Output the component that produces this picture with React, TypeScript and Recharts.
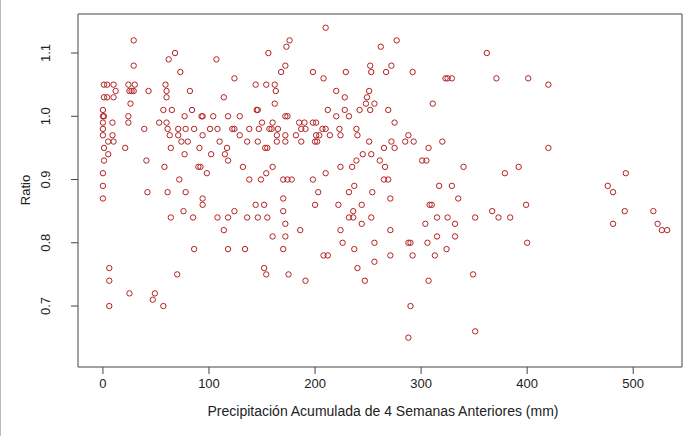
import React from 'react';
import { ScatterChart, Scatter, XAxis, YAxis, ReferenceArea } from 'recharts';

// Ratio levels (rows) and the precipitation values of the points on each row
const ratioLevels = [
  1.14, 1.12, 1.11, 1.10, 1.09, 1.08, 1.07, 1.06, 1.05, 1.04, 1.03, 1.02, 1.01, 1.00,
  0.99, 0.98, 0.97, 0.96, 0.95, 0.94, 0.93, 0.92, 0.91, 0.90, 0.89, 0.88, 0.87, 0.86,
  0.85, 0.84, 0.83, 0.82, 0.81, 0.80, 0.79, 0.78, 0.77, 0.76, 0.75, 0.74, 0.72, 0.71,
  0.70, 0.66, 0.65,
];

const precipitationByLevel = [
  [210],
  [29, 176, 277],
  [173, 262],
  [68, 156, 362],
  [62, 107],
  [29, 172, 252, 272],
  [73, 168, 198, 229, 253, 267, 292],
  [124, 208, 323, 325, 329, 371, 401],
  [1, 4, 10, 24, 30, 59, 144, 154, 162, 420],
  [12, 25, 27, 29, 43, 60, 82, 163, 220, 251],
  [1, 4, 10, 60, 114, 228, 249],
  [26, 162, 248, 256, 311],
  [0, 57, 65, 84, 145, 146, 212, 228, 242, 252, 269],
  [0, 1, 24, 77, 93, 94, 104, 118, 129, 172, 174, 220, 232],
  [0, 9, 24, 53, 60, 150, 160, 185, 190, 198, 201, 275],
  [0, 39, 61, 71, 78, 86, 101, 108, 122, 124, 138, 147, 157, 159, 165, 187, 191, 207, 210, 223, 239],
  [0, 9, 63, 71, 94, 129, 164, 172, 182, 201, 204, 214, 224, 240, 288],
  [5, 10, 74, 80, 110, 136, 146, 164, 172, 187, 200, 202, 251, 272, 285, 293, 320],
  [1, 21, 64, 91, 117, 153, 155, 265, 275, 307, 420],
  [5, 77, 102, 115, 245, 253],
  [1, 41, 118, 239, 261, 301, 305],
  [58, 90, 92, 132, 160, 224, 235, 266, 340, 392],
  [0, 98, 154, 210, 379, 493],
  [72, 138, 149, 170, 174, 178, 198, 265, 269],
  [0, 237, 317, 329, 476],
  [42, 61, 78, 203, 232, 254, 481],
  [0, 94, 170, 271, 335],
  [94, 144, 152, 200, 222, 244, 308, 310, 399],
  [76, 124, 170, 236, 367, 492, 519],
  [64, 85, 108, 118, 136, 146, 155, 232, 236, 253, 315, 325, 351, 373, 384],
  [172, 244, 304, 332, 481, 523],
  [114, 186, 224, 271, 527, 532],
  [160, 172, 315, 332],
  [226, 256, 288, 290, 306, 400],
  [86, 118, 134, 170, 237, 324],
  [208, 212, 271, 292, 313],
  [256],
  [6, 152, 240],
  [70, 154, 175, 349],
  [6, 191, 247, 307],
  [25, 49],
  [47],
  [6, 57, 290],
  [351],
  [288],
];

const xTicks = [0, 100, 200, 300, 400, 500];
const yTicks = [0.7, 0.8, 0.9, 1.0, 1.1];

const xTitle = 'Precipitación Acumulada de 4 Semanas Anteriores (mm)';
const yTitle = 'Ratio';

const data = ratioLevels.flatMap((r, i) =>
  precipitationByLevel[i].map((p) => ({ x: p, y: r }))
);

const W = 683;
const H = 436;
const X_DOMAIN: [number, number] = [-23.5, 546];
const Y_DOMAIN: [number, number] = [0.6036, 1.1617];
const FONT = '"Liberation Sans", Arial, sans-serif';
const INK = '#222';
const POINT = '#b22222';

const Circle = (props: any) => {
  const { cx, cy } = props;
  if (cx == null || cy == null) return null;
  return <circle cx={cx} cy={cy} r={2.7} fill="none" stroke={POINT} strokeWidth={1} />;
};

const YTick = (props: any) => {
  const { y, payload } = props;
  const bx = 50;
  return (
    <text
      x={bx}
      y={y}
      transform={`rotate(-90, ${bx}, ${y})`}
      textAnchor="middle"
      fontSize={13}
      fontFamily={FONT}
      fill={INK}
    >
      {Number(payload.value).toFixed(1)}
    </text>
  );
};

export default function App() {
  return (
    <div
      style={{
        position: 'absolute',
        left: 0,
        top: 0,
        width: W,
        height: H,
        background: '#fff',
        boxShadow: 'inset 1px 0 0 #bbb',
      }}
    >
      <ScatterChart width={W} height={H} margin={{ top: 14, right: 1, bottom: 0, left: 0 }}>
        <XAxis
          type="number"
          dataKey="x"
          domain={X_DOMAIN}
          ticks={xTicks}
          interval={0}
          allowDataOverflow
          axisLine={false}
          tickSize={7}
          tickMargin={5}
          height={69}
          stroke="#444"
          tick={{ fontSize: 13, fill: INK, fontFamily: FONT }}
          label={() => (
            <text x={383} y={416} textAnchor="middle" fontSize={14} fontFamily={FONT} fill={INK}>
              {xTitle}
            </text>
          )}
        />
        <YAxis
          type="number"
          dataKey="y"
          domain={Y_DOMAIN}
          ticks={yTicks}
          interval={0}
          allowDataOverflow
          axisLine={false}
          tickSize={7}
          width={78}
          stroke="#444"
          tick={<YTick />}
          label={() => (
            <text
              x={30}
              y={190}
              transform="rotate(-90, 30, 190)"
              textAnchor="middle"
              fontSize={13}
              fontFamily={FONT}
              fill={INK}
            >
              {yTitle}
            </text>
          )}
        />
        <ReferenceArea
          x1={X_DOMAIN[0]}
          x2={X_DOMAIN[1]}
          y1={Y_DOMAIN[0]}
          y2={Y_DOMAIN[1]}
          fill="none"
          stroke="#444"
          strokeWidth={1}
          ifOverflow="visible"
        />
        <Scatter data={data} shape={Circle} isAnimationActive={false} />
      </ScatterChart>
    </div>
  );
}
